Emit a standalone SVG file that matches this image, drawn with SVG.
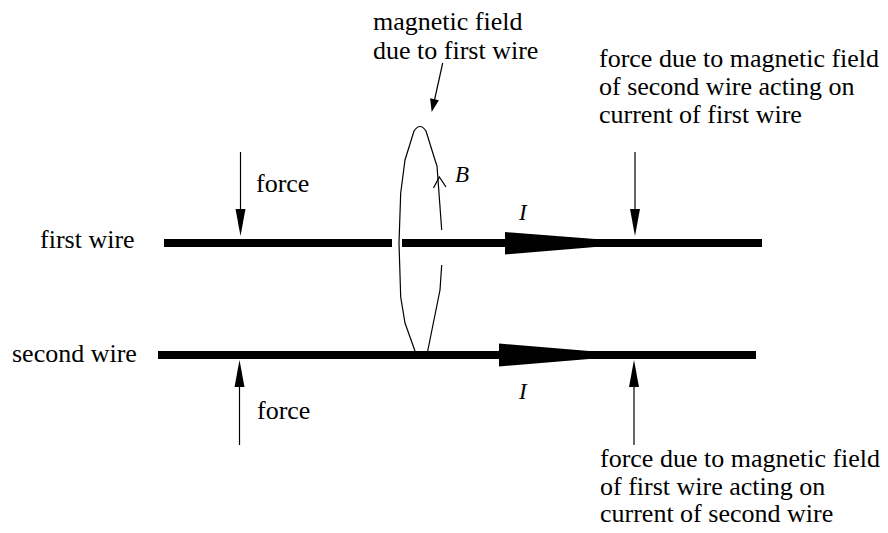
<svg xmlns="http://www.w3.org/2000/svg" width="888" height="533" viewBox="0 0 888 533">
<style>
text{font-family:'Liberation Serif','DejaVu Serif','Times New Roman',serif;font-size:26px;fill:#000}
.it{font-style:italic;font-size:23px}
.wire{stroke:#000;stroke-width:8;fill:none}
.thin{stroke:#000;stroke-width:1.2;fill:none}
.head{fill:#000;stroke:none}
</style>
<rect width="888" height="533" fill="#fff"/>
<g font-family="'Liberation Serif', 'DejaVu Serif', serif">
<g id="first-wire">
<line class="wire" x1="164" y1="243" x2="392" y2="243"/>
<line class="wire" x1="402" y1="243" x2="762" y2="243"/>
<polygon class="head" points="505,232 595,239 595,247 505,254.5"/>
<text x="40" y="248">first wire</text>
<text class="it" x="519" y="220">I</text>
</g>
<g id="second-wire">
<line class="wire" x1="158" y1="355" x2="756" y2="355"/>
<polygon class="head" points="499,343.5 589,351 589,359 499,366.5"/>
<text x="12" y="362">second wire</text>
<text class="it" x="519" y="399">I</text>
</g>
<g id="field-loop">
<path class="thin" d="M415,351 L405,323 L400.7,297 L399,243 L400.7,193 L405,160 L414,131 Q420,122 426,131 L435,160 L437,166 L441.7,230"/>
<path class="thin" d="M441.7,265 L440,290 L427.7,351"/>
<path class="thin" d="M433.5,188 L439.3,177 L446,187"/>
<text class="it" x="455" y="182">B</text>
</g>
<g id="field-label">
<text x="373" y="30">magnetic field</text>
<text x="373" y="59">due to first wire</text>
</g>
<g id="force-label-first">
<text x="599" y="67">force due to magnetic field</text>
<text x="599" y="95">of second wire acting on</text>
<text x="599" y="123">current of first wire</text>
</g>
<g id="force-label-second">
<text x="600" y="467">force due to magnetic field</text>
<text x="600" y="495">of first wire acting on</text>
<text x="600" y="522">current of second wire</text>
</g>
<g id="force-left-first">
<text x="256" y="192">force</text>
</g>
<g id="force-left-second">
<text x="257" y="419">force</text>
</g>
</g>
<g id="connectors">
<line class="thin" x1="240.5" y1="152" x2="240.5" y2="210"/>
<polygon class="head" points="235.5,209 245.5,209 240.5,236"/>
<line class="thin" x1="635" y1="152" x2="635" y2="210"/>
<polygon class="head" points="630,209 640,209 635,236"/>
<line class="thin" x1="239.5" y1="445" x2="239.5" y2="386"/>
<polygon class="head" points="234.5,387 244.5,387 239.5,360"/>
<line class="thin" x1="634" y1="445" x2="634" y2="386"/>
<polygon class="head" points="629,387 639,387 634,360"/>
<line class="thin" x1="442.7" y1="63" x2="434.5" y2="100"/>
<polygon class="head" points="438.9,100.3 430.1,98.3 431.7,112"/>
</g>
</svg>
